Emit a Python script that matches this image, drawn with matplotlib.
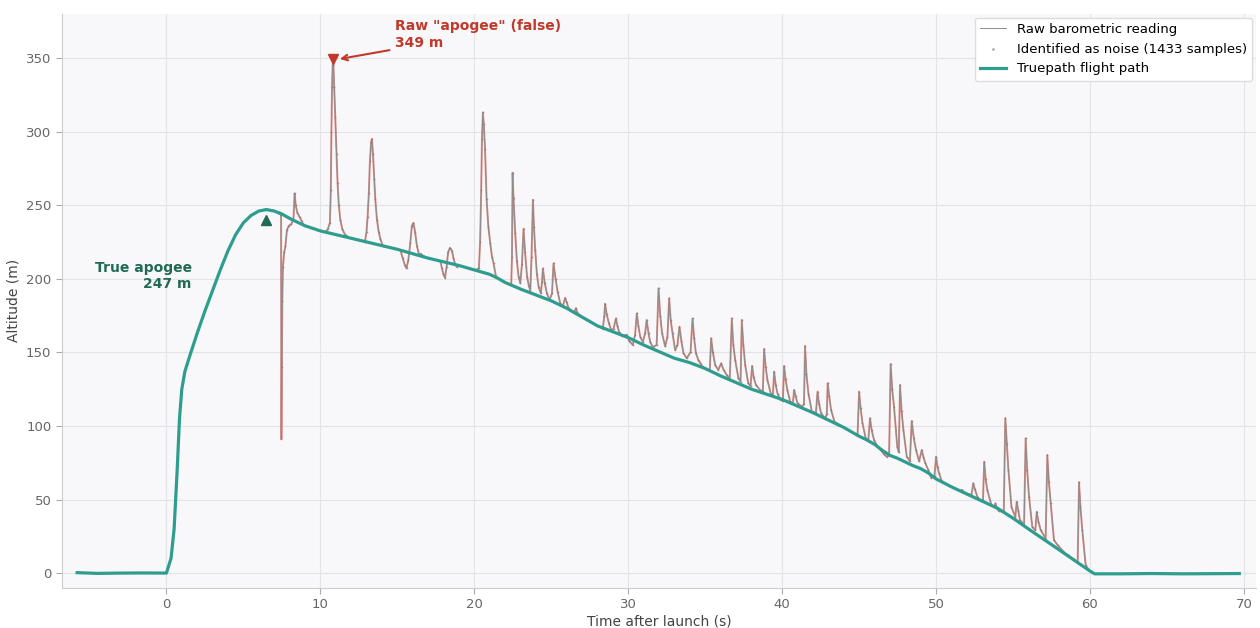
import matplotlib
matplotlib.use("Agg")
import matplotlib.pyplot as plt
import matplotlib.transforms as mtransforms
import numpy as np

# ---------------- data ----------------
true_t = [-5.8, -4.5, -3.0, -1.5, 0.0, 0.3, 0.5, 0.7, 0.85, 1.0, 1.2, 1.5, 2.0, 2.5,
          3.0, 3.5, 4.0, 4.5, 5.0, 5.5, 6.0, 6.5, 7.0, 7.5, 8.0, 9.0, 10.0, 11.0,
          12.0, 13.0, 14.0, 15.0, 16.0, 17.0, 18.0, 19.0, 20.0, 21.0, 21.5, 22.0,
          23.0, 24.0, 25.0, 26.0, 27.0, 28.0, 29.0, 30.0, 31.0, 32.0, 33.0, 34.0,
          35.0, 36.0, 37.0, 38.0, 39.0, 40.0, 41.0, 42.0, 43.0, 44.0, 44.5, 45.0,
          45.5, 46.0, 46.5, 47.0, 47.5, 48.0, 48.5, 49.0, 49.5, 50.0, 51.0, 52.0,
          53.0, 54.0, 55.0, 56.0, 57.0, 58.0, 59.0, 60.0, 60.3, 62.0, 64.0, 66.0,
          68.0, 69.7]
true_alt = [0.3, -0.2, 0.0, 0.1, 0.0, 10, 30, 70, 105, 125, 137, 147, 163, 178,
            192, 206, 219, 230, 238, 243, 246, 247, 246, 244, 241, 236, 232.5, 230,
            227.5, 225, 222.5, 220, 217, 214, 211.5, 209, 206, 203, 200.5, 197.5,
            193, 189, 185, 180, 174, 168, 164, 160, 155, 150.5, 146, 143,
            139, 134, 129.5, 125, 121.5, 118, 113.5, 109, 104, 99, 96, 93,
            90.5, 87.5, 83.5, 80, 78, 75.5, 73, 71, 68, 64, 58.6, 53.7,
            48.9, 44, 37.3, 30, 22.9, 15.8, 8.6, 1.4, -0.5, -0.5, -0.3, -0.5,
            -0.4, -0.3]

noise_t = [
    [7.45, 7.47, 7.5, 7.53, 7.57, 7.65, 7.73, 7.83, 7.95, 8.1, 8.25, 8.33, 8.4,
     8.5, 8.65, 8.8],
    [10.35, 10.5, 10.62, 10.68, 10.72, 10.76, 10.8, 10.84, 10.9, 10.97, 11.05,
     11.12, 11.2, 11.3, 11.42, 11.6, 11.8],
    [12.9, 13.0, 13.07, 13.15, 13.22, 13.3, 13.35, 13.42, 13.5, 13.57, 13.68,
     13.79, 13.9, 14.05],
    [15.2, 15.35, 15.5, 15.6, 15.72, 15.84, 15.95, 16.05, 16.15, 16.28, 16.4,
     16.55],
    [17.8, 17.9, 18.0, 18.1, 18.2, 18.3, 18.42, 18.55, 18.65, 18.75, 18.87, 19.0],
    [20.2, 20.3, 20.38, 20.45, 20.5, 20.56, 20.62, 20.7, 20.8, 20.92, 21.04,
     21.15, 21.25, 21.4],
    [22.4, 22.45, 22.49, 22.55, 22.66, 22.77, 22.88, 22.99, 23.1, 23.2, 23.3,
     23.43, 23.55, 23.64, 23.72, 23.81, 23.88, 23.96, 24.07, 24.18, 24.33, 24.4,
     24.46, 24.58, 24.72, 24.89, 25.05, 25.15, 25.28, 25.42, 25.58, 25.75, 25.9,
     26.0, 26.13, 26.3, 26.5, 26.6, 26.7, 26.85],
    [28.35, 28.45, 28.5, 28.6, 28.75, 28.9, 29.05, 29.2, 29.3, 29.4, 29.6, 29.9,
     30.05, 30.3, 30.45, 30.56, 30.66, 30.78, 30.95, 31.1, 31.2, 31.32, 31.43,
     31.6, 31.85, 31.97, 32.08, 32.2, 32.4, 32.55, 32.66, 32.76, 32.88, 33.05,
     33.2, 33.33, 33.45, 33.59, 33.8, 34.05, 34.18, 34.28, 34.4, 34.55, 34.68,
     34.85],
    [35.3, 35.39, 35.5, 35.65, 35.85, 36.04, 36.2, 36.4, 36.6, 36.73, 36.83,
     36.95, 37.16, 37.3, 37.38, 37.48, 37.6, 37.8, 37.95, 38.05, 38.15, 38.3,
     38.6, 38.75, 38.83, 38.93, 39.05, 39.26, 39.4, 39.48, 39.58, 39.7, 39.9,
     40.05, 40.13, 40.22, 40.34, 40.52, 40.7, 40.78, 40.88, 41.0, 41.3, 41.42,
     41.49, 41.58, 41.71, 41.93, 42.2, 42.3, 42.4, 42.53, 42.8, 42.9, 42.96,
     43.06, 43.18, 43.4, 43.6],
    [44.9, 45.0, 45.1, 45.22, 45.43, 45.6, 45.71, 45.82, 45.97, 46.2, 46.4, 46.6,
     46.8, 46.95, 47.05, 47.15, 47.27, 47.48, 47.58, 47.66, 47.76, 47.88, 48.1,
     48.3, 48.42, 48.55, 48.7, 48.9, 49.07, 49.18, 49.3, 49.5, 49.7, 49.9, 50.0,
     50.1, 50.2, 50.35],
    [51.6, 51.7, 51.8, 52.3, 52.42, 52.52, 52.68, 52.9, 53.05, 53.13, 53.22,
     53.33, 53.6, 53.78, 53.86, 53.95, 54.1, 54.4, 54.5, 54.6, 54.7, 54.9, 55.15,
     55.24, 55.35, 55.45, 55.72, 55.82, 55.92, 56.04, 56.25, 56.45, 56.54, 56.65,
     56.8, 57.12, 57.23, 57.33, 57.45, 57.66, 57.9, 58.5, 58.6, 58.7, 59.2, 59.29,
     59.38, 59.5, 59.72, 59.9],
]
noise_alt = [
    [243, 91, 140, 185, 208, 218, 222, 233, 236, 237, 240, 258, 250,
     245, 242, 239],
    [232, 234, 238, 260, 300, 330, 345, 349, 330, 310, 285,
     265, 250, 240, 234, 230, 228.5],
    [225.2, 232, 242, 258, 280, 293, 295, 285, 268, 254, 240,
     232, 227, 222.4],
    [219.5, 214, 209, 207, 213, 224, 236, 238, 232, 222, 217,
     216.8],
    [212, 207, 203, 200.5, 208, 218, 221, 219, 214, 210, 208, 209],
    [206.6, 207, 225, 260, 295, 313, 305, 288, 254, 235, 224,
     215, 210.7, 202],
    [195.7, 215, 272, 255, 231, 212, 201.4, 197, 210, 234, 218,
     201.4, 195, 192, 215, 253.6, 235, 219.6, 203, 194.6, 190, 198,
     207, 197, 190, 185.6, 190, 210.5, 200, 191, 183.5, 181, 187,
     184, 180, 178, 177, 180, 177, 175],
    [166, 175, 183, 176, 169.7, 165, 166, 173, 168, 164, 161, 162,
     158, 155, 162, 176.5, 168, 160.7, 157, 163, 172, 163, 157,
     153.5, 155, 193.5, 175, 163, 154, 160.7, 186.7, 172, 163, 151.6,
     155, 167.4, 158, 149.4, 146, 150, 173, 160, 149.4, 145, 142.8,
     140],
    [138, 159.5, 150, 141.4, 138, 142.5, 138, 134.6, 132, 173, 155,
     144.8, 132.4, 130, 172, 155, 141.4, 129, 127, 140.7, 133, 127.8,
     124, 124, 152.3, 140, 131, 122, 121, 136.9, 128, 122, 117.6,
     117, 140.7, 132, 124.4, 116.5, 115.5, 124.4, 120, 115.4, 113, 115,
     154.3, 135, 122, 109.6, 109, 123.3, 115, 108.6, 105, 108, 129,
     120, 110.8, 102.9, 101.5],
    [93.5, 123.3, 112, 101.8, 91.6, 90, 105.2, 97, 90.4, 86, 83.6, 81,
     79, 80, 142, 125, 113, 86, 82, 127.8, 110, 97.2, 79,
     76, 103.3, 92, 83.6, 76, 83.6, 79, 74.8, 70, 64.6, 66, 79,
     72, 67.8, 63],
    [56, 56.5, 55, 53, 61, 57, 52, 49, 50, 75.7, 64,
     56.4, 46.2, 45, 47.4, 44, 42, 42, 105.2, 88, 70, 45, 38,
     48.5, 42, 36, 33, 91.6, 70, 52, 31.5, 29, 41.7, 35,
     29.2, 23.5, 80.2, 62, 47.4, 22.4, 19, 12, 12.2, 11, 7.5, 61.7,
     45, 29.2, 5.4, 2.5],
]
noise_count = 1433

x_ticks = [0, 10, 20, 30, 40, 50, 60, 70]
y_ticks = [0, 50, 100, 150, 200, 250, 300, 350]

# ---------------- styling ----------------
TEAL = "#2e9d8f"
DARK_GREEN = "#1f6b55"
RED = "#c0392b"

plt.rcParams["font.family"] = ["DejaVu Sans"]

fig, ax = plt.subplots(figsize=(12.6, 6.28), dpi=100)
fig.subplots_adjust(left=0.049, right=0.997, bottom=0.064, top=0.978)
ax.set_facecolor("#f8f8fa")
ax.grid(True, color="#e4e4e8", lw=0.8)
ax.set_axisbelow(True)

# raw reading = truepath samples outside noise windows + noise samples
tt = np.array(true_t, dtype=float)
ta = np.array(true_alt, dtype=float)
keep = np.ones(len(tt), dtype=bool)
for seg in noise_t:
    keep &= ~((tt >= seg[0]) & (tt <= seg[-1]))
raw_t = np.concatenate([tt[keep]] + [np.array(s, float) for s in noise_t])
raw_a = np.concatenate([ta[keep]] + [np.array(s, float) for s in noise_alt])
order = np.argsort(raw_t)
raw_t, raw_a = raw_t[order], raw_a[order]

# red glow along noise segments
for st, sa in zip(noise_t, noise_alt):
    ax.plot(st, sa, color=RED, alpha=0.55, lw=1.4, zorder=2, solid_capstyle="round")

ax.plot(raw_t, raw_a, color="#8c8c8c", lw=0.7, zorder=3,
        label="Raw barometric reading")

all_nt = np.concatenate([np.array(s, float) for s in noise_t])
all_na = np.concatenate([np.array(s, float) for s in noise_alt])
ax.scatter(all_nt, all_na, s=6, color="#8f6f6b", alpha=0.7, marker=".",
           linewidths=0, zorder=3.5,
           label=f"Identified as noise ({noise_count} samples)")

ax.plot(tt, ta, color=TEAL, lw=2.3, zorder=4, label="Truepath flight path")

# true apogee
i_apo = int(np.argmax(ta))
apo_t, apo_a = tt[i_apo], ta[i_apo]
tr_down = mtransforms.offset_copy(ax.transData, fig=fig, x=0, y=-10, units="dots")
ax.plot([apo_t], [apo_a], marker="^", color=DARK_GREEN, ms=7, ls="none",
        transform=tr_down, zorder=5)
ax.text(1.65, 202, f"True apogee\n{apo_a:.0f} m", ha="right", va="center",
        multialignment="right", fontsize=10, fontweight="bold", color=DARK_GREEN)

# raw (false) apogee
i_raw = int(np.argmax(all_na))
raw_pk_t, raw_pk_a = all_nt[i_raw], all_na[i_raw]
ax.plot([raw_pk_t], [raw_pk_a], marker="v", color=RED, ms=7, ls="none", zorder=5)
ax.annotate(f'Raw "apogee" (false)\n{raw_pk_a:.0f} m', xy=(raw_pk_t + 0.25, raw_pk_a),
            xytext=(14.85, 366), ha="left", va="center", fontsize=10,
            fontweight="bold", color=RED,
            arrowprops=dict(arrowstyle="->", color=RED, lw=1.5,
                            shrinkA=2, shrinkB=2))

ax.set_xlim(-6.8, 70.8)
ax.set_ylim(-10, 380)
ax.set_xticks(x_ticks)
ax.set_yticks(y_ticks)
ax.set_xlabel("Time after launch (s)", fontsize=10, color="#444444", labelpad=2)
ax.set_ylabel("Altitude (m)", fontsize=10, color="#444444", labelpad=4)
ax.tick_params(colors="#666666", labelsize=9.5, length=4, color="#aaaaaa")
for s in ("top", "right"):
    ax.spines[s].set_visible(False)
for s in ("left", "bottom"):
    ax.spines[s].set_color("#cccccc")

leg = ax.legend(loc="upper right", fontsize=9.5, frameon=True, facecolor="white",
                edgecolor="#dddddd", framealpha=1.0, borderaxespad=0.3,
                markerscale=1.5)

fig.savefig("out.png", dpi=100)
